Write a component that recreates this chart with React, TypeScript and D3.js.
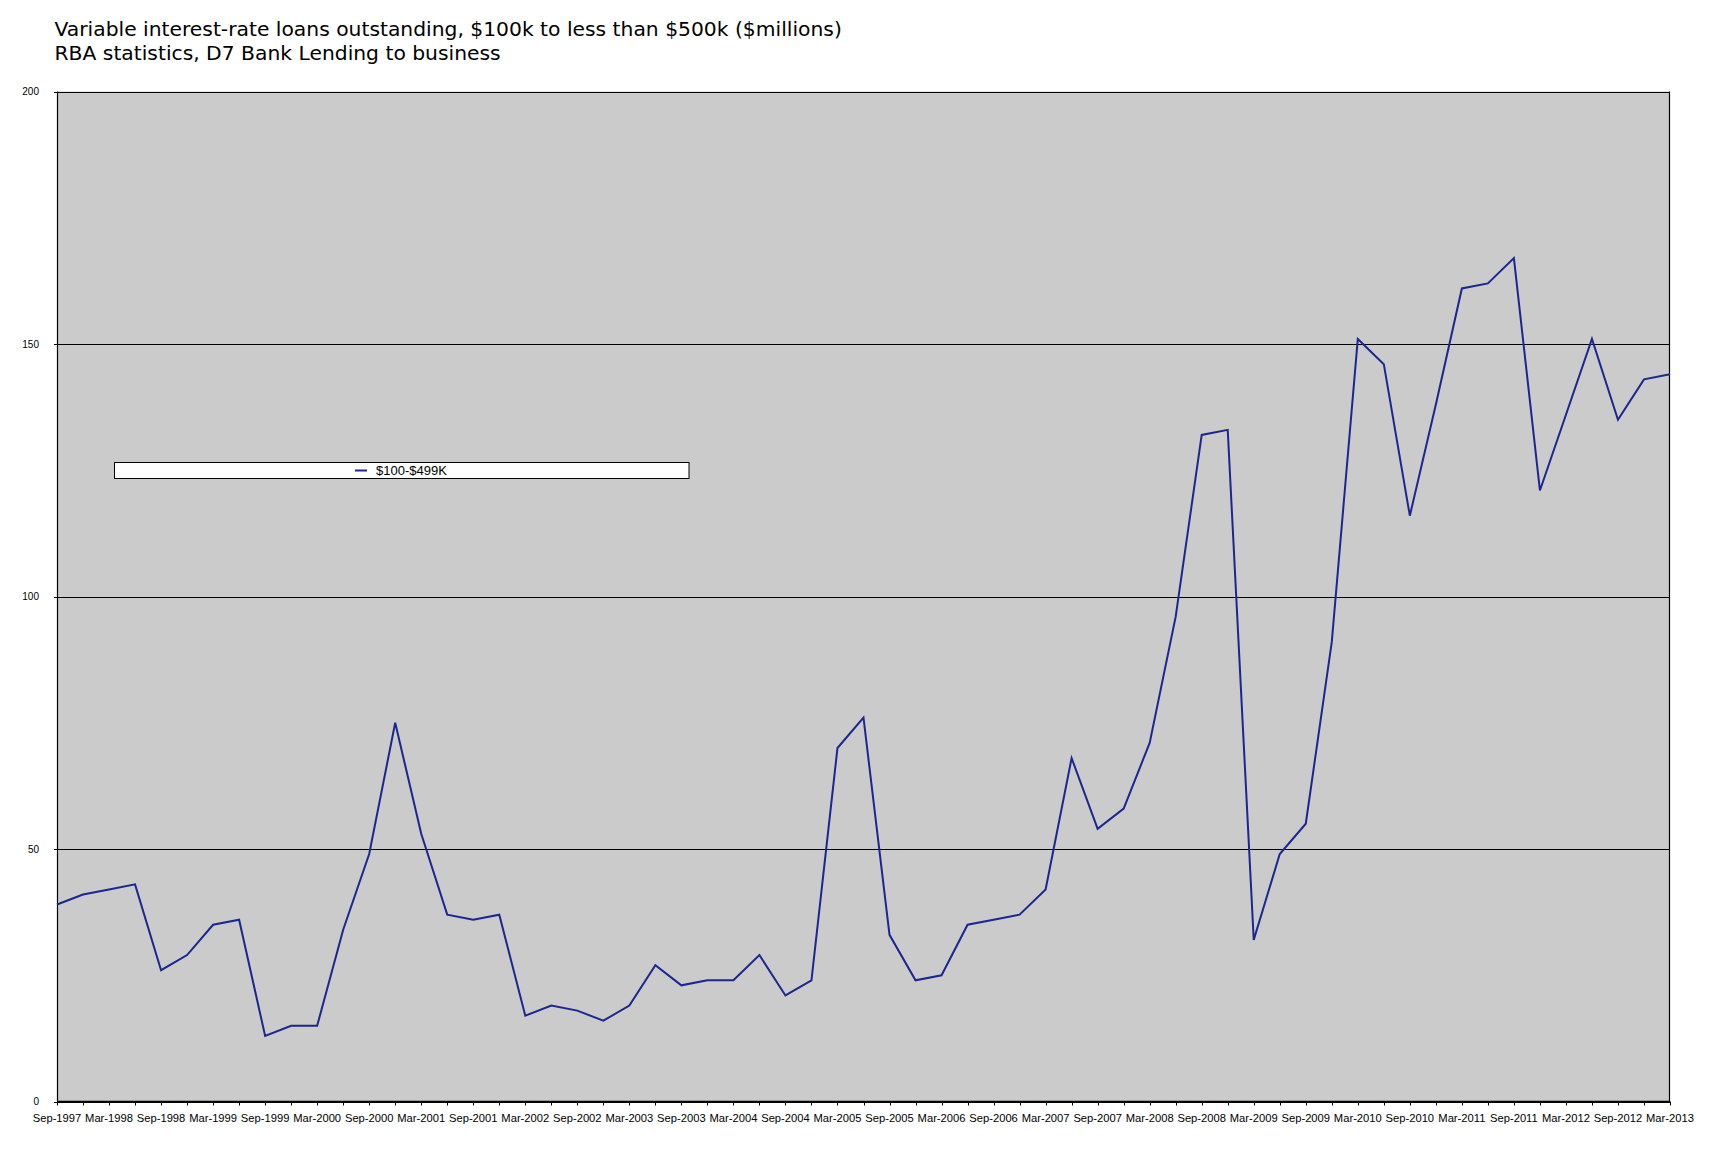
import React from "react";
import * as d3 from "d3";

const titleLines = [
  "Variable interest-rate loans outstanding, $100k to less than $500k ($millions)",
  "RBA statistics, D7 Bank Lending to business",
];

const seriesName = "$100-$499K";

// Quarterly values, Sep-1997 .. Mar-2013
const values = [
  39, 41, 42, 43, 26, 29, 35, 36, 13, 15, 15, 34, 49, 75, 53, 37, 36, 37,
  17, 19, 18, 16, 19, 27, 23, 24, 24, 29, 21, 24, 70, 76, 33, 24, 25, 35,
  36, 37, 42, 68, 54, 58, 71, 96, 132, 133, 32, 49, 55, 91, 151, 146, 116,
  138, 161, 162, 167, 121, 136, 151, 135, 143, 144,
];

// Labels on every second quarter
const xTickLabels = [
  "Sep-1997", "Mar-1998", "Sep-1998", "Mar-1999", "Sep-1999", "Mar-2000",
  "Sep-2000", "Mar-2001", "Sep-2001", "Mar-2002", "Sep-2002", "Mar-2003",
  "Sep-2003", "Mar-2004", "Sep-2004", "Mar-2005", "Sep-2005", "Mar-2006",
  "Sep-2006", "Mar-2007", "Sep-2007", "Mar-2008", "Sep-2008", "Mar-2009",
  "Sep-2009", "Mar-2010", "Sep-2010", "Mar-2011", "Sep-2011", "Mar-2012",
  "Sep-2012", "Mar-2013",
];

const yTicks = [0, 50, 100, 150, 200];

export default function App() {
  const W = 1710;
  const H = 1149;
  const left = 57;
  const right = 1670;
  const top = 91.5;
  const bottom = 1101.5;

  const x = d3.scaleLinear().domain([0, values.length - 1]).range([left, right]);
  const y = d3.scaleLinear().domain([0, 200]).range([bottom, top]);

  const line = d3
    .line<number>()
    .x((_, i) => x(i))
    .y((d) => y(d));

  const lineColor = "#1b2690";
  const axisFont = "'Liberation Sans', Arial, Helvetica, sans-serif";

  return (
    <svg
      width={W}
      height={H}
      style={{ position: "absolute", left: 0, top: 0, background: "#fff" }}
    >
      {/* titles */}
      {titleLines.map((t, i) => (
        <text
          key={i}
          x={54.5}
          y={36 + i * 23.5}
          fontFamily="'DejaVu Sans', Verdana, sans-serif"
          fontSize={20.3}
          fill="#000"
        >
          {t}
        </text>
      ))}

      {/* plot background */}
      <rect x={left} y={top} width={right - left} height={bottom - top} fill="#cbcbcb" />

      {/* gridlines */}
      {yTicks.map((t) => (
        <g key={t}>
          <line
            x1={left - 3}
            x2={right}
            y1={Math.round(y(t)) + 0.5}
            y2={Math.round(y(t)) + 0.5}
            stroke="#000"
            strokeWidth={1}
          />
          <text
            x={39}
            y={y(t)}
            dy="0.35em"
            textAnchor="end"
            fontFamily={axisFont}
            fontSize={10}
            fill="#000"
          >
            {t}
          </text>
        </g>
      ))}

      {/* frame */}
      <line x1={left + 0.5} x2={left + 0.5} y1={top} y2={bottom} stroke="#000" strokeWidth={1.2} />
      <line x1={right - 0.5} x2={right - 0.5} y1={top} y2={bottom} stroke="#000" strokeWidth={1.2} />
      <line x1={left} x2={right} y1={bottom} y2={bottom} stroke="#000" strokeWidth={1.5} />

      {/* x ticks */}
      {values.map((_, i) => (
        <line
          key={i}
          x1={Math.round(x(i)) + 0.5}
          x2={Math.round(x(i)) + 0.5}
          y1={bottom}
          y2={bottom + 4}
          stroke="#000"
          strokeWidth={1}
        />
      ))}
      {xTickLabels.map((lab, j) => (
        <text
          key={lab}
          x={x(j * 2)}
          y={1122}
          textAnchor="middle"
          fontFamily={axisFont}
          fontSize={11.2}
          fill="#000"
        >
          {lab}
        </text>
      ))}

      {/* series */}
      <path d={line(values) || ""} fill="none" stroke={lineColor} strokeWidth={2} strokeLinejoin="miter" />

      {/* legend */}
      <rect x={114.5} y={462.5} width={574.5} height={16} fill="#fff" stroke="#000" strokeWidth={1} />
      <line x1={355} x2={367} y1={470.5} y2={470.5} stroke={lineColor} strokeWidth={2} />
      <text
        x={376}
        y={470.5}
        dy="0.35em"
        fontFamily={axisFont}
        fontSize={13}
        fill="#000"
      >
        {seriesName}
      </text>
    </svg>
  );
}
